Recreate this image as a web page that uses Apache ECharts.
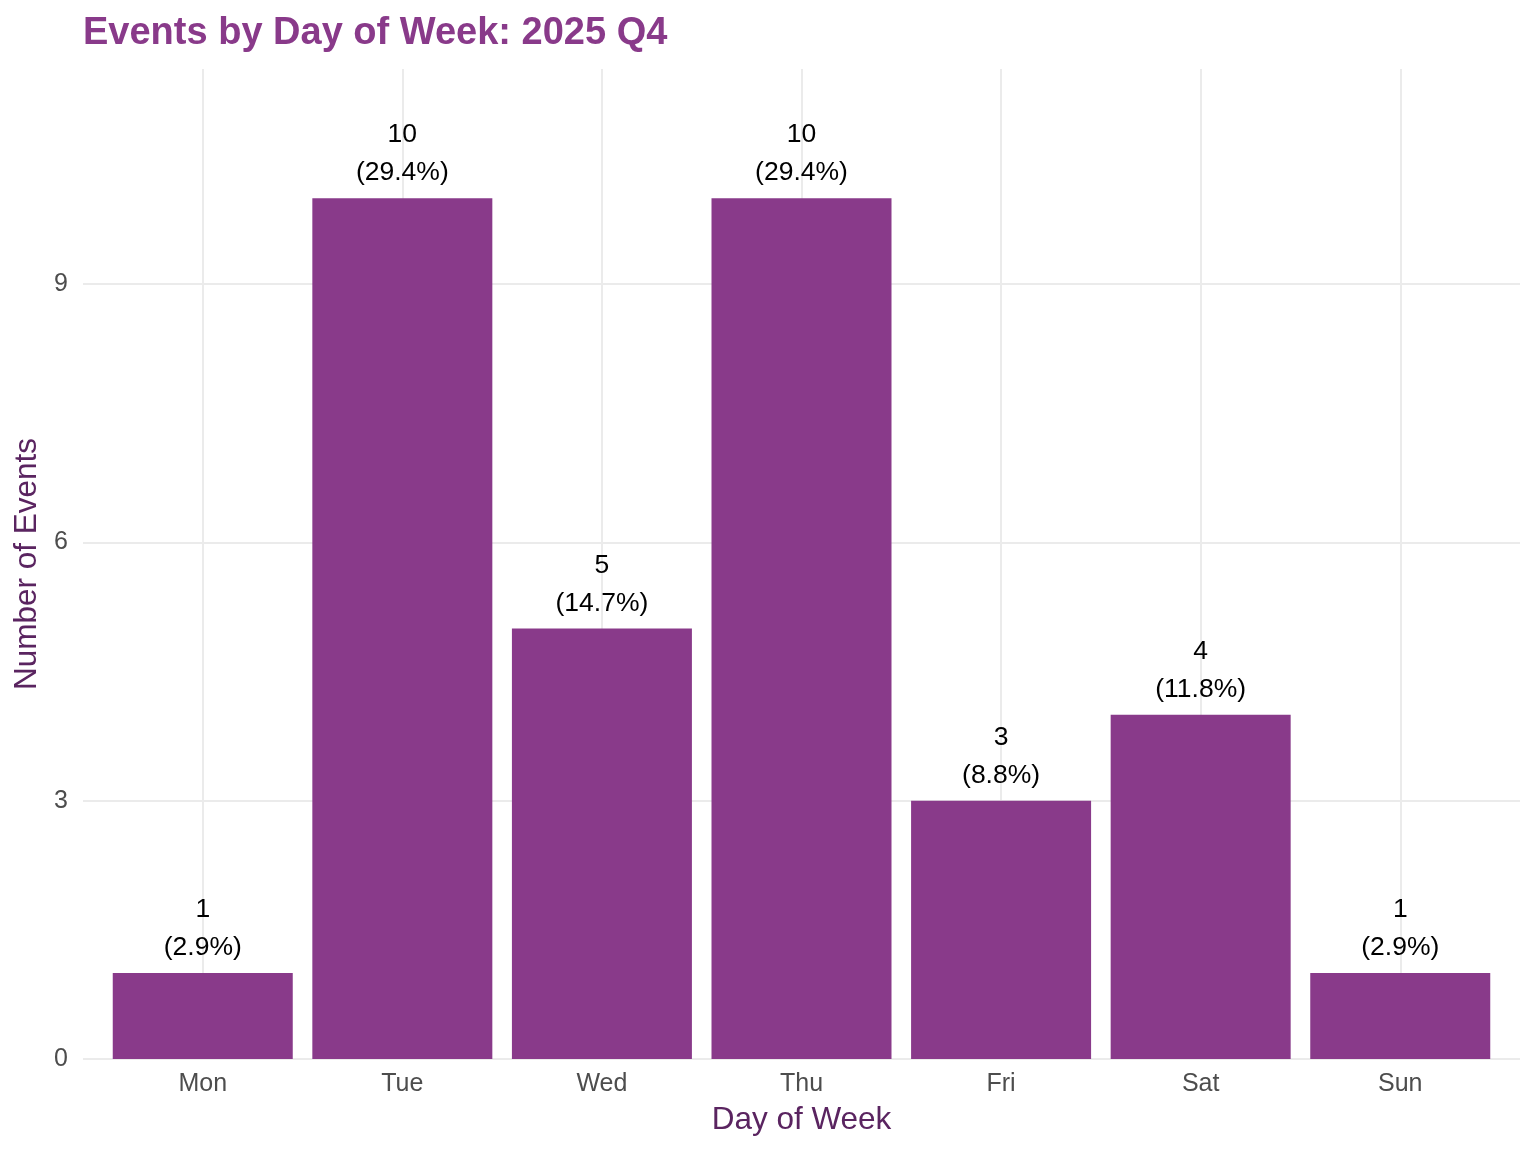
<!DOCTYPE html>
<html>
<head>
<meta charset="utf-8">
<script src="https://cdn.jsdelivr.net/npm/echarts@6/dist/echarts.min.js"></script>
<style>html,body{margin:0;padding:0;background:#fff;}#c{width:1536px;height:1152px;}</style>
</head>
<body>
<div id="c"></div>
<script>
const days = ['Mon','Tue','Wed','Thu','Fri','Sat','Sun'];
const counts = [1, 10, 5, 10, 3, 4, 1];
const pctLabels = ['2.9%','29.4%','14.7%','29.4%','8.8%','11.8%','2.9%'];
const yTicks = [0, 3, 6, 9];

const FONT = "'Liberation Sans', Arial, Helvetica, sans-serif";
const chart = echarts.init(document.getElementById('c'));
chart.setOption({
  animation: false,
  backgroundColor: '#ffffff',
  title: {
    text: 'Events by Day of Week: 2025 Q4',
    left: 78, top: 8,
    textStyle: { fontFamily: FONT, fontSize: 38, fontWeight: 'bold', color: '#893a8a', lineHeight: 42 }
  },
  grid: { left: 83, right: 16, top: 69, bottom: 93, containLabel: false },
  xAxis: {
    type: 'value', min: 0.4, max: 7.6, splitNumber: 7, minInterval: 1, maxInterval: 1,
    name: 'Day of Week', nameLocation: 'middle', nameGap: 45,
    nameTextStyle: { fontFamily: FONT, fontSize: 31.5, color: '#5a2460' },
    axisLine: { show: false }, axisTick: { show: false },
    axisLabel: {
      fontFamily: FONT, fontSize: 25, color: '#4d4d4d', margin: 13,
      showMinLabel: false, showMaxLabel: false,
      formatter: v => (Math.abs(v - Math.round(v)) < 1e-6 && v >= 1 && v <= days.length) ? days[Math.round(v) - 1] : ''
    },
    splitLine: { show: true, showMinLine: false, showMaxLine: false, lineStyle: { color: '#ebebeb', width: 2 } }
  },
  yAxis: {
    type: 'value', min: 0, max: 11.5, interval: 3,
    name: 'Number of Events', nameLocation: 'middle', nameGap: 40,
    nameTextStyle: { fontFamily: FONT, fontSize: 31.5, color: '#5a2460' },
    axisLine: { show: false }, axisTick: { show: false },
    axisLabel: {
      fontFamily: FONT, fontSize: 25, color: '#4d4d4d', margin: 15,
      showMaxLabel: false,
      formatter: v => yTicks.includes(v) ? String(v) : ''
    },
    splitLine: { show: true, showMaxLine: false, lineStyle: { color: '#ebebeb', width: 2 } }
  },
  series: [{
    type: 'bar',
    barWidth: 180,
    data: counts.map((v, i) => [i + 1, v]),
    itemStyle: { color: '#893a8a' },
    label: {
      show: true, position: 'top', distance: 6,
      fontFamily: FONT, fontSize: 26.5, color: '#000000', lineHeight: 38,
      formatter: p => counts[p.dataIndex] + '\n(' + pctLabels[p.dataIndex] + ')'
    }
  }]
});
</script>
</body>
</html>
